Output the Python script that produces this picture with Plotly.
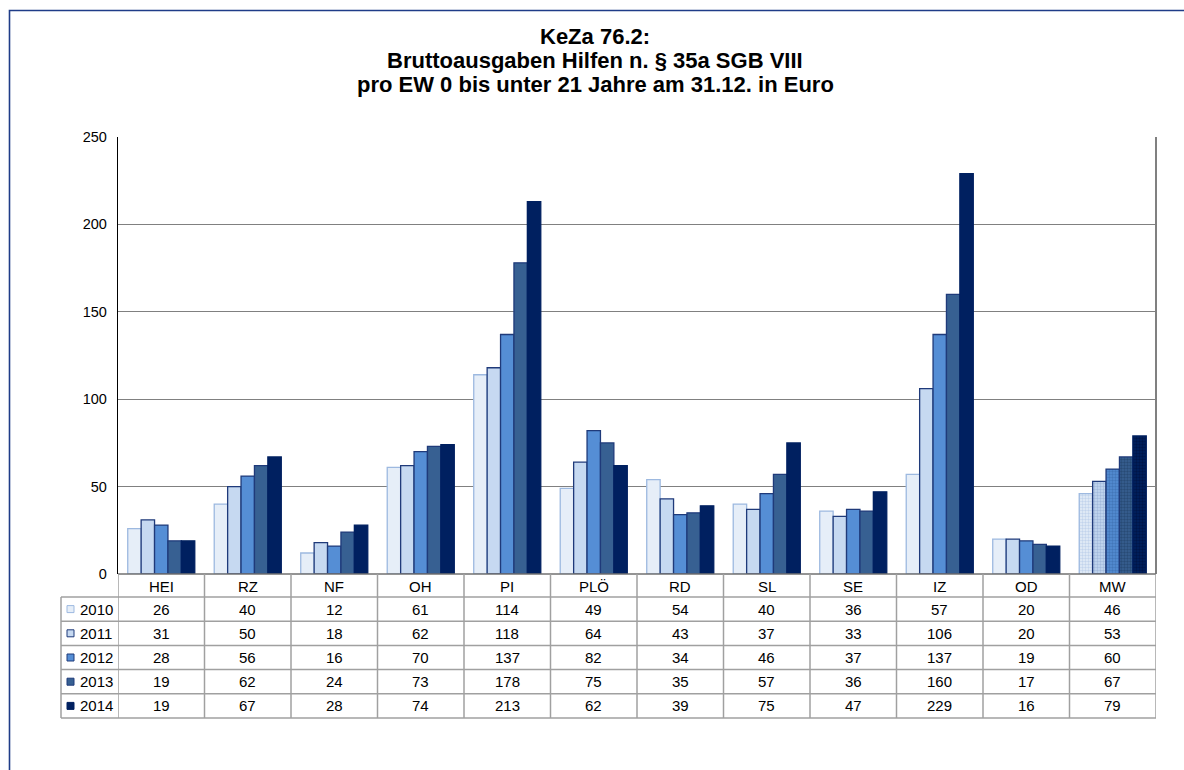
import plotly.graph_objects as go

categories = ["HEI", "RZ", "NF", "OH", "PI", "PLÖ", "RD", "SL", "SE", "IZ", "OD", "MW"]
years = ["2010", "2011", "2012", "2013", "2014"]
v2010 = [26, 40, 12, 61, 114, 49, 54, 40, 36, 57, 20, 46]
v2011 = [31, 50, 18, 62, 118, 64, 43, 37, 33, 106, 20, 53]
v2012 = [28, 56, 16, 70, 137, 82, 34, 46, 37, 137, 19, 60]
v2013 = [19, 62, 24, 73, 178, 75, 35, 57, 36, 160, 17, 67]
v2014 = [19, 67, 28, 74, 213, 62, 39, 75, 47, 229, 16, 79]
series = [v2010, v2011, v2012, v2013, v2014]

title_lines = ["KeZa 76.2:", "Bruttoausgaben Hilfen n. § 35a SGB VIII",
               "pro EW 0 bis unter 21 Jahre am 31.12. in Euro"]

fills = ["#E6EEF8", "#C6D9F1", "#558ED5", "#376092", "#002060"]
borders = ["#9DB9E0", "#1F3A7A", "#1F3A7A", "#1F3A7A", "#002060"]
pattern_fg = ["#9DB9E0", "#7F9CC8", "#2F5FA0", "#1A3558", "#000A30"]

W, H = 1184, 770
FONT = "Arial, Liberation Sans, sans-serif"


def px(x):
    return x / W


def py(y):
    return 1 - y / H


fig = go.Figure()
for k, (yr, vals) in enumerate(zip(years, series)):
    shapes_pat = ["." if c == "MW" else "" for c in categories]
    fig.add_trace(go.Bar(
        x=list(range(len(categories))), y=vals, name=yr,
        marker=dict(color=fills[k], line=dict(color=borders[k], width=1.3),
                    pattern=dict(shape=shapes_pat, fgcolor=pattern_fg[k],
                                 fillmode="overlay", size=3, solidity=0.5)),
        showlegend=False, hoverinfo="x+y"))

AX_L, AX_R, AX_T, AX_B = 118, 1156, 137, 574
TBL_L = 61
HDR_B = 597
ROW_H = 24.2

fig.update_layout(
    width=W, height=H,
    margin=dict(l=0, r=0, t=0, b=0),
    paper_bgcolor="white", plot_bgcolor="white",
    barmode="group", bargap=0.225, bargroupgap=0,
    font=dict(family=FONT, size=15, color="black"),
    xaxis=dict(domain=[px(AX_L), px(AX_R)], range=[-0.5, len(categories) - 0.5],
               showticklabels=False, showgrid=False, zeroline=False,
               showline=False, fixedrange=True, automargin=False),
    yaxis=dict(domain=[py(AX_B), py(AX_T)], range=[0, 250], dtick=50,
               showgrid=True, gridcolor="#808080", gridwidth=1.3,
               zeroline=False, showline=True, linecolor="black", linewidth=1.3,
               ticks="", ticklabelstandoff=7, automargin=False,
               tickfont=dict(family=FONT, size=14.5, color="black")),
)

shapes = []
annotations = []
grid_col = "#A0A0A0"

shapes.append(dict(type="rect", xref="paper", yref="paper",
                   x0=px(9.5), x1=px(W + 20), y0=py(H + 20), y1=py(10.5),
                   line=dict(color="#1F3C88", width=1.6)))
shapes.append(dict(type="line", xref="paper", yref="paper",
                   x0=px(AX_R), x1=px(AX_R), y0=py(AX_B), y1=py(AX_T),
                   line=dict(color="#808080", width=2)))
shapes.append(dict(type="line", xref="paper", yref="paper",
                   x0=px(AX_L), x1=px(AX_R), y0=py(AX_B), y1=py(AX_B),
                   line=dict(color="#707070", width=1.5)))

n = len(categories)
tbl_bottom = HDR_B + ROW_H * len(years)
for i in range(n + 1):
    shapes.append(dict(type="line", xref="x", yref="paper",
                       x0=i - 0.5, x1=i - 0.5, y0=py(tbl_bottom), y1=py(AX_B),
                       line=dict(color=grid_col, width=1.5)))
shapes.append(dict(type="line", xref="paper", yref="paper",
                   x0=px(TBL_L), x1=px(TBL_L), y0=py(tbl_bottom), y1=py(HDR_B),
                   line=dict(color=grid_col, width=1.5)))
for r in range(len(years) + 1):
    yy = HDR_B + ROW_H * r
    shapes.append(dict(type="line", xref="paper", yref="paper",
                       x0=px(TBL_L), x1=px(AX_R), y0=py(yy), y1=py(yy),
                       line=dict(color=grid_col, width=1.5)))

for i, c in enumerate(categories):
    annotations.append(dict(x=i, y=py((AX_B + HDR_B) / 2 + 0.5), xref="x", yref="paper",
                            text=c, showarrow=False, xanchor="center", yanchor="middle",
                            font=dict(family=FONT, size=15, color="black")))
for r, (yr, vals) in enumerate(zip(years, series)):
    yc = HDR_B + ROW_H * (r + 0.5)
    shapes.append(dict(type="rect", xref="paper", yref="paper",
                       x0=px(67), x1=px(74), y0=py(yc + 3.5), y1=py(yc - 3.5),
                       fillcolor=fills[r], line=dict(color=borders[r], width=1)))
    annotations.append(dict(x=px(78), y=py(yc), xref="paper", yref="paper",
                            text=yr, showarrow=False, xanchor="left", yanchor="middle",
                            font=dict(family=FONT, size=15, color="black")))
    for i, v in enumerate(vals):
        annotations.append(dict(x=i, y=py(yc), xref="x", yref="paper",
                                text=str(v), showarrow=False, xanchor="center",
                                yanchor="middle",
                                font=dict(family=FONT, size=15, color="black")))

for j, line in enumerate(title_lines):
    annotations.append(dict(x=px(595), y=py(36 + j * 24), xref="paper", yref="paper",
                            text="<b>" + line + "</b>", showarrow=False,
                            xanchor="center", yanchor="middle",
                            font=dict(family=FONT, size=22, color="black")))

fig.update_layout(shapes=shapes, annotations=annotations)
fig.write_html(
    "out.html",
    config={"displayModeBar": False},
    post_script=(
        "var s=document.documentElement.style;s.margin='0';s.padding='0';"
        "s.overflow='hidden';s.height='770px';"
        "var b=document.body.style;b.margin='0';b.padding='0';"
        "b.overflow='hidden';b.height='770px';"
    ),
)
